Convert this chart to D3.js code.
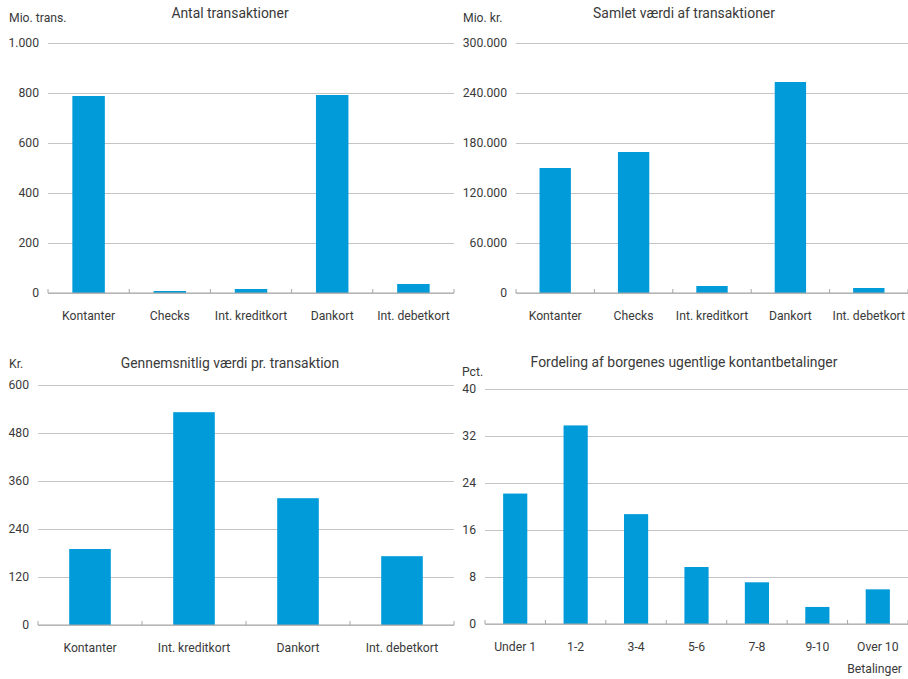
<!DOCTYPE html>
<html>
<head>
<meta charset="utf-8">
<script src="https://cdn.jsdelivr.net/npm/d3@7"></script>
<style>
  body { margin: 0; background: #fff; }
  svg text { font-family: "Roboto", "Open Sans", sans-serif; fill: #3a3a3a; }
</style>
</head>
<body>
<div id="chart"></div>
<script>
const payCategories = ["Kontanter", "Checks", "Int. kreditkort", "Dankort", "Int. debetkort"];
const transCount = [788, 8, 16, 792, 36];            // Mio. trans.
const transValue = [150000, 169200, 8400, 253200, 6000]; // Mio. kr.

const avgCategories = ["Kontanter", "Int. kreditkort", "Dankort", "Int. debetkort"];
const avgValue = [190, 532, 317, 172];                // Kr.

const cashCategories = ["Under 1", "1-2", "3-4", "5-6", "7-8", "9-10", "Over 10"];
const cashShare = [22.2, 33.8, 18.7, 9.7, 7.1, 2.9, 5.9]; // Pct.

const ticks1 = [0, 200, 400, 600, 800, 1000];
const ticks2 = [0, 60000, 120000, 180000, 240000, 300000];
const ticks3 = [0, 120, 240, 360, 480, 600];
const ticks4 = [0, 8, 16, 24, 32, 40];

const dk = d3.formatLocale({ decimal: ",", thousands: ".", grouping: [3], currency: ["", " kr."] });
const fmt = dk.format(",");

const width = 908, height = 679;
const barColor = "#009bd8";

const svg = d3.select("#chart").append("svg")
  .attr("width", width)
  .attr("height", height);

function drawPanel(cfg) {
  const g = svg.append("g");
  const data = cfg.categories.map((c, i) => ({ cat: c, val: cfg.values[i] }));

  const slot = d3.scaleBand().domain(cfg.categories).range([cfg.x0, cfg.x1]).padding(0);
  const y = d3.scaleLinear().domain([0, d3.max(cfg.ticks)]).range([cfg.yBase, cfg.yTop]);

  // grid + y labels
  const yAxis = g.append("g")
    .attr("transform", `translate(${cfg.x0},0)`)
    .call(d3.axisLeft(y).tickValues(cfg.ticks).tickFormat(fmt)
      .tickSize(-(cfg.x1 - cfg.x0)).tickPadding(9));
  yAxis.select(".domain").remove();
  yAxis.selectAll("line").attr("stroke", "#c4c4c4").attr("stroke-width", 1.2);
  yAxis.selectAll("text").attr("font-size", "12.2px").attr("fill", "#3a3a3a");

  // bars
  g.append("g")
    .selectAll("rect")
    .data(data)
    .enter()
    .append("rect")
    .attr("x", d => slot(d.cat) + slot.bandwidth() * 0.3)
    .attr("width", slot.bandwidth() * 0.4)
    .attr("y", d => y(d.val))
    .attr("height", d => y(0) - y(d.val))
    .attr("fill", barColor);

  // baseline with boundary ticks
  g.append("line")
    .attr("x1", cfg.x0).attr("x2", cfg.x1)
    .attr("y1", y(0)).attr("y2", y(0))
    .attr("stroke", "#a6a6a6").attr("stroke-width", 1.2);

  const bounds = cfg.categories.map(c => slot(c)).concat([cfg.x1]);
  g.append("g")
    .selectAll("line")
    .data(bounds)
    .enter()
    .append("line")
    .attr("x1", d => d).attr("x2", d => d)
    .attr("y1", y(0)).attr("y2", y(0) - 4)
    .attr("stroke", "#a6a6a6").attr("stroke-width", 1);

  // x labels
  g.append("g")
    .selectAll("text")
    .data(cfg.categories)
    .enter()
    .append("text")
    .attr("x", d => slot(d) + slot.bandwidth() / 2)
    .attr("y", y(0) + 27)
    .attr("text-anchor", "middle")
    .attr("font-size", "12.2px")
    .text(d => d);

  // title + unit
  g.append("text")
    .attr("x", cfg.titleX)
    .attr("y", cfg.titleY)
    .attr("text-anchor", "middle")
    .attr("font-size", "13.9px")
    .text(cfg.title);

  g.append("text")
    .attr("x", cfg.unitX)
    .attr("y", cfg.unitY)
    .attr("font-size", "12.2px")
    .text(cfg.unit);
}

drawPanel({
  categories: payCategories, values: transCount, ticks: ticks1,
  x0: 48, x1: 454, yBase: 293, yTop: 43,
  title: "Antal transaktioner", titleX: 230, titleY: 18,
  unit: "Mio. trans.", unitX: 9, unitY: 22
});

drawPanel({
  categories: payCategories, values: transValue, ticks: ticks2,
  x0: 516, x1: 908, yBase: 293, yTop: 43,
  title: "Samlet værdi af transaktioner", titleX: 684, titleY: 18,
  unit: "Mio. kr.", unitX: 463, unitY: 22
});

drawPanel({
  categories: avgCategories, values: avgValue, ticks: ticks3,
  x0: 38, x1: 454, yBase: 625, yTop: 385,
  title: "Gennemsnitlig værdi pr. transaktion", titleX: 230, titleY: 368,
  unit: "Kr.", unitX: 9, unitY: 368
});

drawPanel({
  categories: cashCategories, values: cashShare, ticks: ticks4,
  x0: 485, x1: 908, yBase: 624, yTop: 389,
  title: "Fordeling af borgenes ugentlige kontantbetalinger", titleX: 684, titleY: 367,
  unit: "Pct.", unitX: 462, unitY: 376
});

svg.append("text")
  .attr("x", 902)
  .attr("y", 673)
  .attr("text-anchor", "end")
  .attr("font-size", "12.2px")
  .text("Betalinger");
</script>
</body>
</html>
